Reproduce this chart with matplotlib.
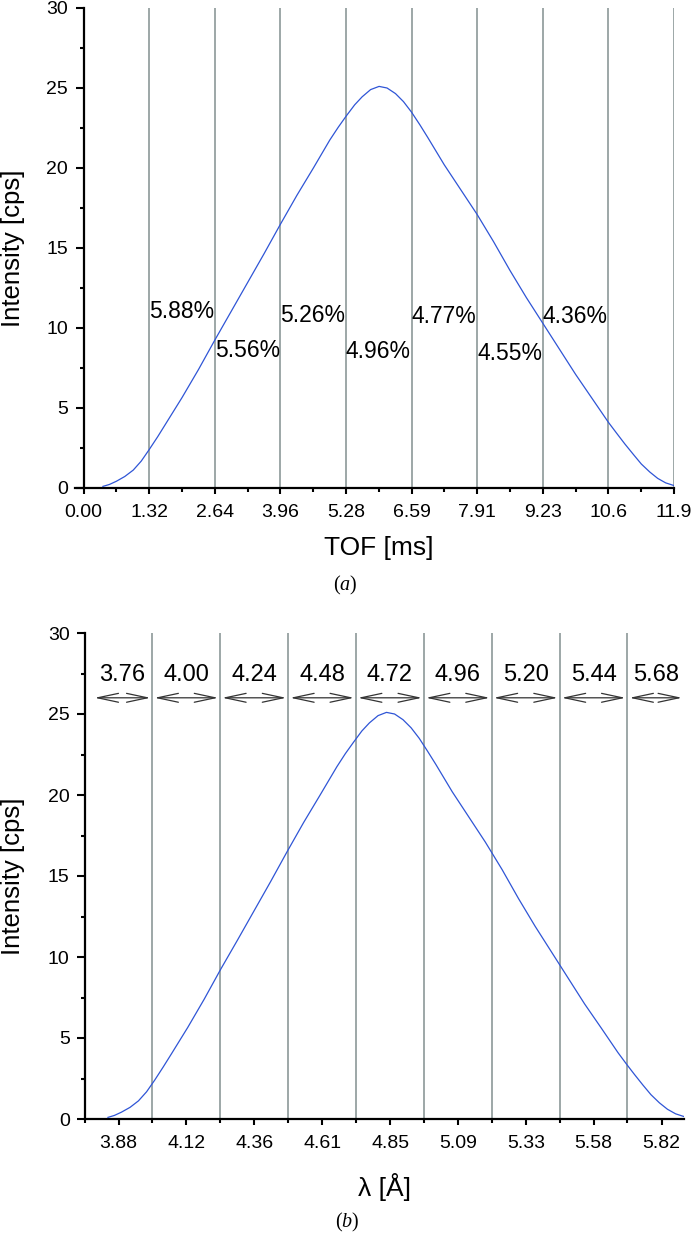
import matplotlib
matplotlib.use('Agg')
import matplotlib.pyplot as plt
import numpy as np

plt.rcParams['font.family'] = ['Liberation Sans', 'DejaVu Sans']
plt.rcParams['mathtext.fontset'] = 'custom'
plt.rcParams['mathtext.rm'] = 'Liberation Serif'
plt.rcParams['mathtext.it'] = 'Liberation Serif:italic'

# ---------------- data: panel (a) ----------------
tof_ms = [0.39, 0.52, 0.66, 0.83, 1.00, 1.16, 1.32, 1.49, 1.65, 1.98, 2.31, 2.64,
          2.97, 3.30, 3.63, 3.96, 4.29, 4.62, 4.95, 5.12, 5.28, 5.45, 5.60, 5.77,
          5.94, 6.10, 6.27, 6.43, 6.59, 6.76, 6.92, 7.25, 7.58, 7.91, 8.24, 8.57,
          8.90, 9.23, 9.56, 9.89, 10.22, 10.55, 10.72, 10.88, 11.05, 11.21, 11.38,
          11.54, 11.70, 11.87]
intensity_a = [0.10, 0.22, 0.42, 0.72, 1.12, 1.68, 2.40, 3.20, 4.00, 5.65, 7.40, 9.25,
               11.05, 12.85, 14.65, 16.50, 18.30, 20.00, 21.75, 22.55, 23.25, 23.95, 24.45, 24.90,
               25.10, 25.00, 24.65, 24.15, 23.50, 22.70, 21.90, 20.20, 18.65, 17.10, 15.40, 13.60,
               11.90, 10.30, 8.70, 7.10, 5.60, 4.10, 3.40, 2.75, 2.10, 1.50, 1.00,
               0.60, 0.32, 0.15]

tof_ticks = [0.0, 1.319, 2.637, 3.956, 5.274, 6.593, 7.912, 9.230, 10.549, 11.867]
tof_tick_labels = ['0.00', '1.32', '2.64', '3.96', '5.28', '6.59', '7.91', '9.23', '10.6', '11.9']
tof_lines = [1.319, 2.637, 3.956, 5.274, 6.593, 7.912, 9.230, 10.549, 11.867]
pct_labels = ['5.88%', '5.56%', '5.26%', '4.96%', '4.77%', '4.55%', '4.36%']
pct_y = [11.0, 8.6, 10.75, 8.5, 10.7, 8.4, 10.7]

# ---------------- data: panel (b) ----------------
lam_A = [3.842, 3.865, 3.890, 3.921, 3.951, 3.980, 4.009, 4.039, 4.068, 4.127, 4.186, 4.245,
         4.305, 4.364, 4.423, 4.482, 4.541, 4.600, 4.660, 4.690, 4.719, 4.749, 4.776, 4.807,
         4.837, 4.866, 4.896, 4.925, 4.954, 4.984, 5.013, 5.072, 5.131, 5.190, 5.250, 5.309,
         5.368, 5.427, 5.486, 5.545, 5.605, 5.664, 5.694, 5.723, 5.753, 5.782, 5.812,
         5.841, 5.870, 5.900]
intensity_b = [0.10, 0.22, 0.42, 0.72, 1.12, 1.68, 2.40, 3.20, 4.00, 5.65, 7.40, 9.25,
               11.05, 12.85, 14.65, 16.50, 18.30, 20.00, 21.75, 22.55, 23.25, 23.95, 24.45, 24.90,
               25.10, 25.00, 24.65, 24.15, 23.50, 22.70, 21.90, 20.20, 18.65, 17.10, 15.40, 13.60,
               11.90, 10.30, 8.70, 7.10, 5.60, 4.10, 3.40, 2.75, 2.10, 1.50, 1.00,
               0.60, 0.32, 0.15]

lam_ticks = [3.880, 4.122, 4.365, 4.607, 4.850, 5.092, 5.335, 5.577, 5.820]
lam_tick_labels = ['3.88', '4.12', '4.36', '4.61', '4.85', '5.09', '5.33', '5.58', '5.82']
lam_lines = [4.001, 4.243, 4.486, 4.728, 4.971, 5.213, 5.456, 5.698]
lam_bin_labels = ['3.76', '4.00', '4.24', '4.48', '4.72', '4.96', '5.20', '5.44', '5.68']
lam_range = [3.787, 5.900]

y_ticks = [0, 5, 10, 15, 20, 25, 30]
y_minor = [2.5, 7.5, 12.5, 17.5, 22.5, 27.5]

# ---------------- style ----------------
W, H = 693, 1258
CURVE = '#2f55d6'
GRID = '#8c9898'

fig = plt.figure(figsize=(W / 100, H / 100), dpi=100)


def px_ax(l, r, t, b):
    return fig.add_axes([l / W, 1 - b / H, (r - l) / W, (b - t) / H])


def style(ax):
    for s in ('top', 'right'):
        ax.spines[s].set_visible(False)
    for s in ('left', 'bottom'):
        ax.spines[s].set_linewidth(1.6)
    ax.set_ylim(0, 30)
    ax.set_yticks(y_ticks)
    ax.set_yticks(y_minor, minor=True)
    ax.tick_params(axis='y', which='major', direction='out', length=6, width=1.5,
                   labelsize=14, pad=5)
    ax.tick_params(axis='y', which='minor', direction='out', length=3, width=1.5)
    ax.tick_params(axis='x', which='major', direction='out', length=4.5, width=1.5,
                   labelsize=14, pad=7)
    ax.tick_params(axis='x', which='minor', direction='out', length=3, width=1.5)


# ---------------- panel (a) ----------------
ax1 = px_ax(83.5, 674, 8, 488)
style(ax1)
ax1.set_xlim(tof_ticks[0], tof_ticks[-1])
ax1.vlines(tof_lines, 0, 30, color=GRID, lw=1.2, zorder=1)
ax1.plot(tof_ms, intensity_a, color=CURVE, lw=0.9, zorder=3)
ax1.set_xticks(tof_ticks)
ax1.set_xticklabels(tof_tick_labels)
mid_a = (np.array(tof_ticks[:-1]) + np.array(tof_ticks[1:])) / 2
ax1.set_xticks(mid_a, minor=True)
ax1.spines['bottom'].set_bounds(-0.17, tof_ticks[-1])
for x, lab, y in zip(tof_lines[:-2], pct_labels, pct_y):
    ax1.text(x, y, lab, ha='left', va='center', fontsize=16.5, zorder=4)

fig.text(13 / W, 1 - 248 / H, 'Intensity [cps]', rotation=90, ha='center', va='center',
         fontsize=18.5)
fig.text(379 / W, 1 - 548 / H, 'TOF [ms]', ha='center', va='center', fontsize=19)
fig.text(345 / W, 1 - 585 / H, r'$(\mathit{a})$', ha='center', va='center', fontsize=14.5)

# ---------------- panel (b) ----------------
ax2 = px_ax(85, 684, 633, 1119)
style(ax2)
ax2.set_xlim(lam_range[0], lam_range[1])
ax2.vlines(lam_lines, 0, 30, color=GRID, lw=1.2, zorder=1)
ax2.plot(lam_A, intensity_b, color=CURVE, lw=0.9, zorder=3)
ax2.set_xticks(lam_ticks)
ax2.set_xticklabels(lam_tick_labels)
ax2.set_xticks([3.76] + lam_lines, minor=True)
ax2.spines['bottom'].set_bounds(3.76, lam_range[1])

edges = [lam_range[0]] + lam_lines + [lam_range[1]]
for i, lab in enumerate(lam_bin_labels):
    a, b = edges[i], edges[i + 1]
    ax2.annotate('', xy=(b, 26.0), xytext=(a, 26.0),
                 arrowprops=dict(arrowstyle='<->,head_length=0.75,head_width=0.16',
                                 color='#333333', lw=0.9, shrinkA=1.5, shrinkB=1.5,
                                 mutation_scale=20),
                 annotation_clip=False, zorder=4)
    ax2.text((a + b) / 2, 27.4, lab, ha='center', va='center', fontsize=17, zorder=4)

fig.text(13 / W, 1 - 876 / H, 'Intensity [cps]', rotation=90, ha='center', va='center',
         fontsize=18.5)
fig.text(384 / W, 1 - 1187 / H, 'λ [Å]', ha='center', va='center', fontsize=19)
fig.text(347 / W, 1 - 1222 / H, r'$(\mathit{b})$', ha='center', va='center', fontsize=14.5)

fig.savefig('out.png', dpi=100)
